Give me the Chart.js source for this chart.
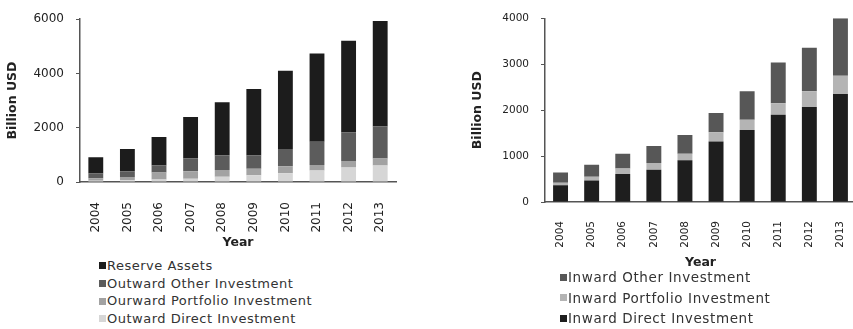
<!DOCTYPE html>
<html>
<head>
<meta charset="utf-8">
<script src="https://cdn.jsdelivr.net/npm/chart.js@4.4.0/dist/chart.umd.min.js"></script>
<style>
html, body { margin: 0; padding: 0; background: #fff; overflow: hidden; width: 853px; height: 329px; position: relative; }
canvas { position: absolute; }
#chartOut { left: 0; top: 0; }
#chartIn { left: 430px; top: 0; }
.legenda { position: absolute; font-family: 'DejaVu Sans', sans-serif; color: #333; }
.legenda div { display: flex; align-items: center; white-space: nowrap; }
.legenda .sw { width: 7px; height: 7px; margin-right: 1px; display: inline-block; }
#legOut { left: 99px; top: 257px; font-size: 13px; letter-spacing: 0.5px; line-height: 17.7px; }
#legIn { left: 560px; top: 267px; font-size: 13.5px; letter-spacing: 0.6px; line-height: 20.5px; }
</style>
</head>
<body>
<canvas id="chartOut" width="430" height="252"></canvas>
<canvas id="chartIn" width="440" height="272"></canvas>
<div class="legenda" id="legOut"></div>
<div class="legenda" id="legIn"></div>
<script>
const anos = ['2004', '2005', '2006', '2007', '2008', '2009', '2010', '2011', '2012', '2013'];

// Ativos externos (bilhões USD)
const outwardDirect = [50, 60, 90, 120, 190, 250, 320, 420, 530, 610];
const outwardPortfolio = [90, 120, 260, 280, 250, 240, 260, 210, 240, 260];
const outwardOther = [170, 220, 260, 470, 550, 490, 640, 850, 1050, 1180];
const reserveAssets = [600, 820, 1050, 1530, 1950, 2450, 2880, 3260, 3390, 3880];

// Passivos externos (bilhões USD)
const inwardDirect = [365, 470, 610, 700, 910, 1320, 1570, 1900, 2070, 2350];
const inwardPortfolio = [55, 80, 120, 150, 140, 200, 220, 250, 340, 400];
const inwardOther = [220, 260, 320, 370, 410, 420, 620, 890, 950, 1250];

Chart.defaults.font.family = "'DejaVu Sans', sans-serif";
Chart.defaults.color = '#222';

const corEixo = '#555';

function montarOpcoes(cfg) {
    return {
        responsive: false,
        animation: false,
        layout: { padding: cfg.padding },
        plugins: { legend: { display: false }, tooltip: { enabled: false } },
        datasets: { bar: { barPercentage: cfg.barPct, categoryPercentage: 1 } },
        scales: {
            x: {
                stacked: true,
                grid: { display: false },
                border: { display: true, color: corEixo, width: 1.5 },
                ticks: { minRotation: 90, maxRotation: 90, padding: cfg.xPad, font: { size: cfg.tickSize }, color: '#222' },
                title: { display: true, text: 'Year', font: { size: 12.5, weight: 'bold' }, padding: { top: 0, bottom: 2 }, color: '#222' },
                afterFit: (s) => { s.height = cfg.xHeight; }
            },
            y: {
                stacked: true,
                min: 0,
                max: cfg.yMax,
                grid: { drawOnChartArea: false, tickLength: 4, color: corEixo },
                border: { display: true, color: corEixo, width: 1.5 },
                ticks: { stepSize: cfg.yStep, padding: cfg.yPad, font: { size: cfg.tickSize }, color: '#222', callback: (v) => String(v) },
                title: { display: true, text: 'Billion USD', font: { size: 12.5, weight: 'bold' }, padding: { top: cfg.titlePad, bottom: 0 }, color: '#222' },
                afterFit: (s) => { s.width = cfg.yWidth; }
            }
        }
    };
}

const datasetsOut = [
    { label: 'Outward Direct Investment', data: outwardDirect, backgroundColor: '#d6d6d6' },
    { label: 'Ourward Portfolio Investment', data: outwardPortfolio, backgroundColor: '#a2a2a2' },
    { label: 'Outward Other Investment', data: outwardOther, backgroundColor: '#5c5c5c' },
    { label: 'Reserve Assets', data: reserveAssets, backgroundColor: '#1c1c1c' }
];

const datasetsIn = [
    { label: 'Inward Direct Investment', data: inwardDirect, backgroundColor: '#1e1e1e' },
    { label: 'Inward Portfolio Investment', data: inwardPortfolio, backgroundColor: '#b4b4b4' },
    { label: 'Inward Other Investment', data: inwardOther, backgroundColor: '#575757' }
];

new Chart('chartOut', {
    type: 'bar',
    data: { labels: anos, datasets: datasetsOut },
    options: montarOpcoes({
        padding: { left: 0, top: 16, right: 34, bottom: 0 },
        barPct: 0.47, xPad: 12, tickSize: 12, xHeight: 70,
        yMax: 6000, yStep: 2000, yPad: 12, titlePad: 5.5, yWidth: 80
    })
});

new Chart('chartIn', {
    type: 'bar',
    data: { labels: anos, datasets: datasetsIn },
    options: montarOpcoes({
        padding: { left: 0, top: 15, right: 14, bottom: 0 },
        barPct: 0.48, xPad: 11, tickSize: 10.5, xHeight: 70,
        yMax: 4000, yStep: 1000, yPad: 12, titlePad: 40.5, yWidth: 115
    })
});

function montarLegenda(id, datasets) {
    document.getElementById(id).innerHTML = datasets.slice().reverse().map(d =>
        `<div><span class="sw" style="background:${d.backgroundColor}"></span>${d.label}</div>`
    ).join('');
}

montarLegenda('legOut', datasetsOut);
montarLegenda('legIn', datasetsIn);
</script>
</body>
</html>
